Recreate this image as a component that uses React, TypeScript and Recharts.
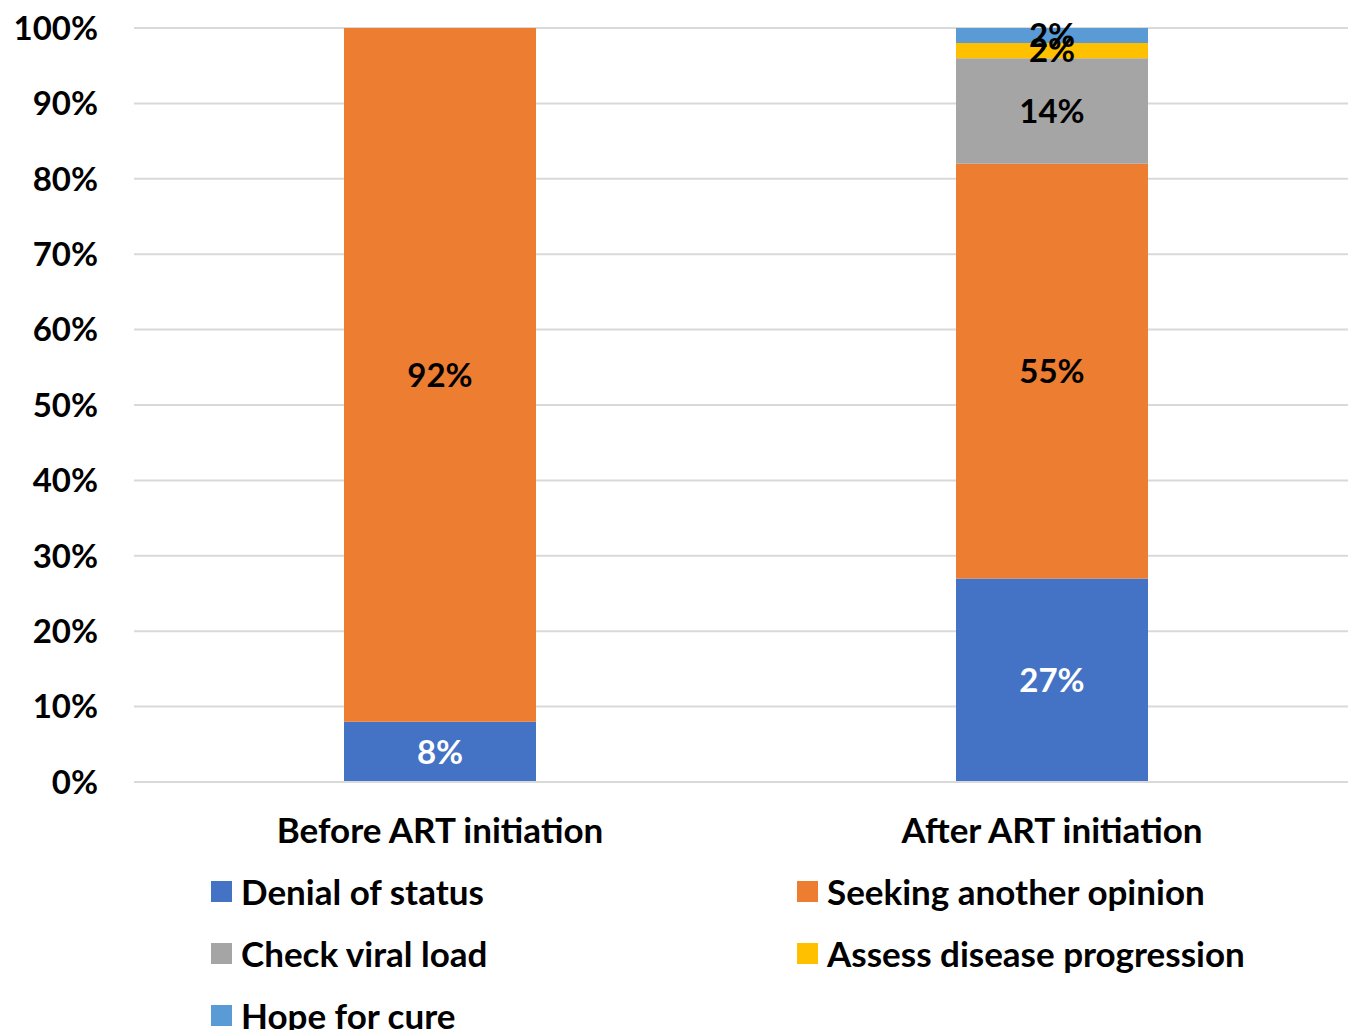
import React from "react";
import {
  BarChart,
  Bar,
  XAxis,
  YAxis,
  CartesianGrid,
  LabelList,
} from "recharts";

const categories = ["Before ART initiation", "After ART initiation"];

const denialOfStatus = [8, 27];
const seekingAnotherOpinion = [92, 55];
const checkViralLoad = [0, 14];
const assessDiseaseProgression = [0, 2];
const hopeForCure = [0, 2];

const yTicks = [0, 10, 20, 30, 40, 50, 60, 70, 80, 90, 100];

const series = [
  { key: "denial", name: "Denial of status", values: denialOfStatus, color: "#4472C4", labelColor: "#ffffff" },
  { key: "seeking", name: "Seeking another opinion", values: seekingAnotherOpinion, color: "#ED7D31", labelColor: "#000000" },
  { key: "viral", name: "Check viral load", values: checkViralLoad, color: "#A5A5A5", labelColor: "#000000" },
  { key: "assess", name: "Assess disease progression", values: assessDiseaseProgression, color: "#FFC000", labelColor: "#000000" },
  { key: "hope", name: "Hope for cure", values: hopeForCure, color: "#5B9BD5", labelColor: "#000000" },
];

const data = categories.map((name, i) => {
  const row: Record<string, string | number> = { name };
  series.forEach((s) => {
    row[s.key] = s.values[i];
  });
  return row;
});

const FONT = "Lato, 'DejaVu Sans', sans-serif";
const GRID = "#d9d9d9";

// skip empty segments so zero-height bars don't get a "0%" label
const pct = (v: unknown) => (typeof v === "number" && v > 0 ? `${v}%` : "");

export default function App() {
  return (
    <div
      style={{
        position: "absolute",
        left: 0,
        top: 0,
        width: 1348,
        height: 1030,
        overflow: "hidden",
        background: "#fff",
        fontFamily: FONT,
      }}
    >
      <BarChart
        width={1358}
        height={1030}
        data={data}
        margin={{ top: 28, right: 0, bottom: 168, left: 0 }}
      >
        <CartesianGrid vertical={false} stroke={GRID} strokeWidth={2} />
        <XAxis
          dataKey="name"
          height={80}
          tickSize={0}
          tickMargin={36}
          axisLine={{ stroke: GRID, strokeWidth: 2 }}
          tick={{ fontSize: 35, fontWeight: 700, fill: "#000", fontFamily: FONT }}
        />
        <YAxis
          width={134}
          domain={[0, 100]}
          ticks={yTicks}
          interval={0}
          tickFormatter={(v) => `${v}%`}
          tickSize={0}
          tickMargin={36}
          axisLine={false}
          tick={{ fontSize: 33, fontWeight: 700, fill: "#000", fontFamily: FONT }}
        />
        {series.map((s) => (
          <Bar
            key={s.key}
            dataKey={s.key}
            name={s.name}
            stackId="a"
            fill={s.color}
            barSize={192}
            isAnimationActive={false}
          >
            <LabelList
              dataKey={s.key}
              position="center"
              formatter={pct}
              style={{
                fontSize: 33,
                fontWeight: 700,
                fill: s.labelColor,
                fontFamily: FONT,
              }}
            />
          </Bar>
        ))}
      </BarChart>

      {/* two-column legend under the axis */}
      <div
        style={{
          position: "absolute",
          left: 211,
          top: 868,
          display: "grid",
          gridTemplateColumns: "586px 500px",
          rowGap: 16,
        }}
      >
        {series.map((s) => (
          <div
            key={s.key}
            style={{ display: "flex", alignItems: "center", height: 46 }}
          >
            <span
              style={{
                width: 21,
                height: 21,
                background: s.color,
                marginRight: 9,
                display: "inline-block",
                flexShrink: 0,
              }}
            />
            <span
              style={{
                fontSize: 35,
                fontWeight: 700,
                color: "#000",
                whiteSpace: "nowrap",
              }}
            >
              {s.name}
            </span>
          </div>
        ))}
      </div>
    </div>
  );
}
